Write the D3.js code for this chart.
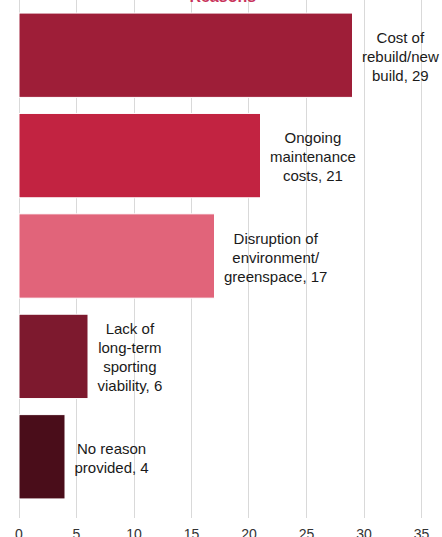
<!DOCTYPE html>
<html>
<head>
<meta charset="utf-8">
<script src="https://cdn.jsdelivr.net/npm/d3@7"></script>
<style>
  body { margin: 0; background: #fff; }
  svg { display: block; font-family: "Liberation Sans", Arial, sans-serif; }
  .axis path, .axis line { display: none; }
  .axis text { font-size: 14px; fill: #333; }
  .grid line { stroke: #d9d9d9; stroke-width: 1; }
  .lbl { font-size: 15px; fill: #1a1a1a; }
</style>
</head>
<body>
<div id="chart"></div>
<script>
var categories = [
    ["Cost of", "rebuild/new", "build, 29"],
    ["Ongoing", "maintenance", "costs, 21"],
    ["Disruption of", "environment/", "greenspace, 17"],
    ["Lack of", "long-term", "sporting", "viability, 6"],
    ["No reason", "provided, 4"]
];
var values = [29, 21, 17, 6, 4];
var barColors = ["#9e1e38", "#c22341", "#e1647a", "#7d192e", "#4a0d1a"];
var tickValues = [0, 5, 10, 15, 20, 25, 30, 35];
var title = "Reasons";

var width = 442, height = 537;
var margins = {left: 18.5, right: 421, top: -3, bottom: 515};

var svg = d3.select("#chart").append("svg")
    .attr("width", width)
    .attr("height", height);

var x = d3.scaleLinear().domain([0, 35]).range([margins.left, margins.right]);
var y = d3.scaleBand()
    .domain(d3.range(values.length))
    .range([margins.top, margins.bottom])
    .paddingInner(0.16)
    .paddingOuter(0.16);

// gridlines
svg.append("g").attr("class", "grid")
    .selectAll("line")
    .data(tickValues)
    .enter().append("line")
    .attr("x1", function (d) { return Math.round(x(d)) + 0.5; })
    .attr("x2", function (d) { return Math.round(x(d)) + 0.5; })
    .attr("y1", 0)
    .attr("y2", 518);

// title (mostly cut off above the view)
svg.append("text")
    .attr("x", (margins.left + margins.right) / 2 + 3)
    .attr("y", 2)
    .attr("text-anchor", "middle")
    .attr("font-size", 16)
    .attr("font-weight", "bold")
    .attr("fill", "#c8325a")
    .text(title);

// bars
svg.append("g").selectAll("rect")
    .data(values)
    .enter().append("rect")
    .attr("x", x(0) + 0.5)
    .attr("y", function (d, i) { return y(i); })
    .attr("width", function (d) { return x(d) - x(0); })
    .attr("height", y.bandwidth())
    .attr("fill", function (d, i) { return barColors[i]; })
    .attr("stroke", "#fff")
    .attr("stroke-width", 1);

// labels
var lineH = 19;
var labels = svg.append("g").selectAll("text")
    .data(values)
    .enter().append("text")
    .attr("class", "lbl")
    .attr("text-anchor", "middle");

labels.each(function (d, i) {
    var t = d3.select(this);
    var lines = categories[i];
    var cy = y(i) + y.bandwidth() / 2;
    var y0 = cy - (lines.length - 1) * lineH / 2 + 6.5;
    lines.forEach(function (s, k) {
        t.append("tspan").attr("y", y0 + k * lineH).text(s);
    });
    var maxW = 0;
    t.selectAll("tspan").each(function () {
        maxW = Math.max(maxW, this.getComputedTextLength());
    });
    t.selectAll("tspan").attr("x", x(d) + 10 + maxW / 2);
});

// x axis labels
svg.append("g")
    .attr("class", "axis")
    .attr("transform", "translate(0,518)")
    .call(d3.axisBottom(x).tickValues(tickValues).tickSize(0).tickPadding(11));
</script>
</body>
</html>
